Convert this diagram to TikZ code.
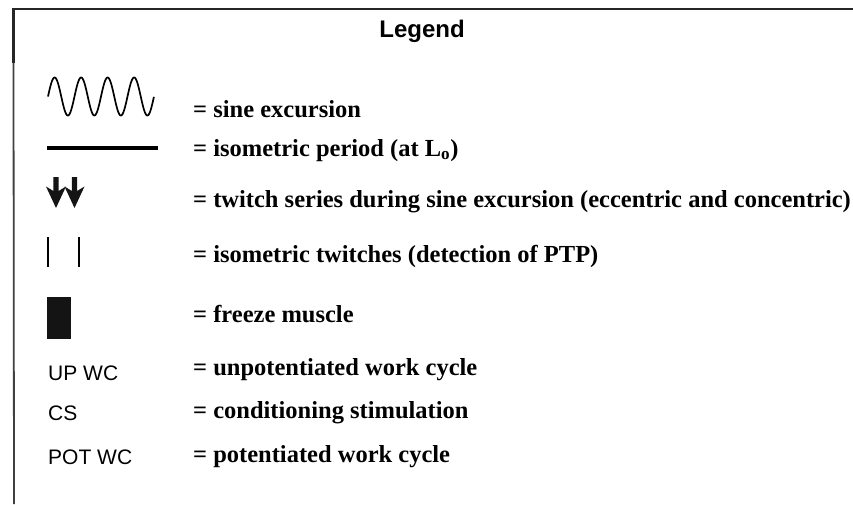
\documentclass[tikz,border=0pt]{standalone}
\usepackage{fontspec}
\setmainfont{Liberation Serif}
\newfontfamily\arialfont{Liberation Sans}
\begin{document}
\begin{tikzpicture}[x=1pt,y=-1pt,
  desc/.style={anchor=base west,inner sep=0pt,font=\fontsize{24.5}{28}\selectfont\bfseries},
  abbr/.style={anchor=base west,inner sep=0pt,font=\fontsize{21}{24}\selectfont\arialfont},
  titlefont/.style={anchor=base,inner sep=0pt,font=\fontsize{24}{27}\selectfont\arialfont\bfseries},
  frameline/.style={draw=black!85,line width=2.4pt},
  symb/.style={fill=black!92,draw=none}]
\useasboundingbox (0,0) rectangle (853,504);
% frame
\coordinate (ftl) at (13.5,9);
\coordinate (ftr) at (853,9);
\coordinate (fk) at (13.5,63);
\coordinate (fbl) at (14,504);
\draw[frameline] (ftr) -- (ftl);
\draw[draw=black!85,line width=3.4pt] (13.5,8) -- (fk);
\draw[draw=black!75,line width=1.8pt] (fk) -- (fbl);
% title
\node[titlefont] (title) at (422,37) {Legend};
% sine
\draw[line width=1.7pt,line join=round] plot[domain=0:4,samples=240] ({48+\x*26.5},{96.5-19*sin(360*\x)});
\node[desc] (t1) at (193,117) {= sine excursion};
% isometric line
\coordinate (l1) at (47,148);
\coordinate (l2) at (158,148);
\draw[line width=4pt] (l1) -- (l2);
\node[desc] (t2) at (193,156) {= isometric period (at L\textsubscript{o})};
% twitch arrows
\foreach \cx in {56,74.5}{
  \fill[symb] (\cx-2.6,177) -- (\cx+2.6,177) -- (\cx+2.6,191) -- (\cx+10,186.5) -- (\cx,208) -- (\cx-10,186.5) -- (\cx-2.6,191) -- cycle;
}
\node[desc] (t3) at (193,207) {= twitch series during sine excursion (eccentric and concentric)};
% isometric twitches
\draw[line width=2.3pt] (48,237) -- (48,267);
\draw[line width=2.3pt] (79,237) -- (79,267);
\node[desc] (t4) at (193,262) {= isometric twitches (detection of PTP)};
% freeze
\fill[symb] (47,297) rectangle (71,339);
\node[desc] (t5) at (193,322) {= freeze muscle};
% abbreviations
\node[abbr] (a1) at (48,380) {UP WC};
\node[desc] (t6) at (193,375) {= unpotentiated work cycle};
\node[abbr] (a2) at (48,420) {CS};
\node[desc] (t7) at (193,418) {= conditioning stimulation};
\node[abbr] (a3) at (48,464) {POT WC};
\node[desc] (t8) at (193,462) {= potentiated work cycle};
\end{tikzpicture}
\end{document}
